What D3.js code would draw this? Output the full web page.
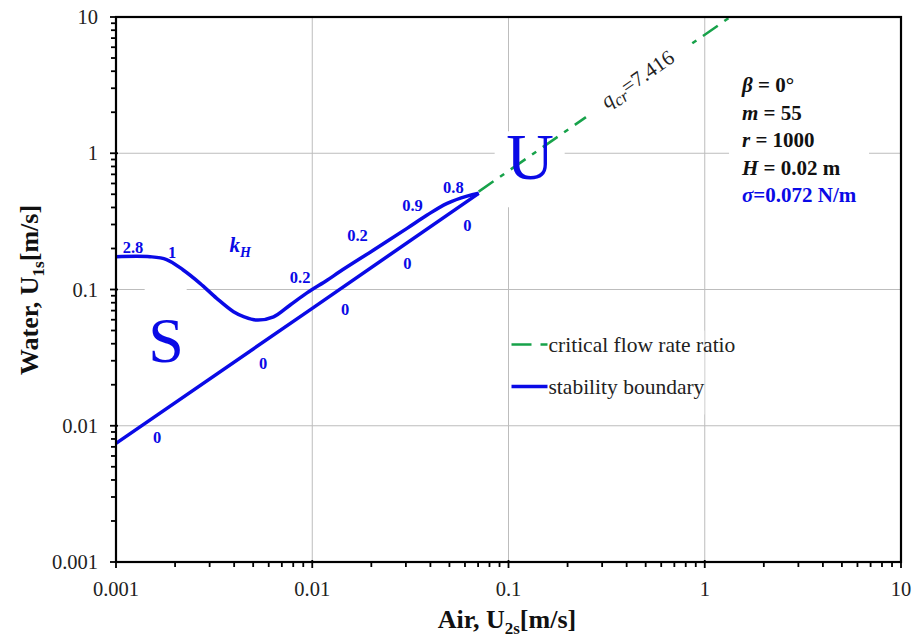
<!DOCTYPE html>
<html>
<head>
<meta charset="utf-8">
<script src="https://cdn.jsdelivr.net/npm/d3@7"></script>
<style>
  body { margin: 0; background: #fff; }
  svg { font-family: "Liberation Serif", "DejaVu Serif", serif; }
  .grid line { stroke: #bdbdbd; stroke-width: 1; }
  .tick-label { font-size: 20.5px; fill: #222; }
  .num { font-size: 16.5px; font-weight: bold; fill: #0a0ae6; }
  .info { font-size: 21px; font-weight: bold; }
</style>
</head>
<body>
<svg width="913" height="637"></svg>
<script>
// stability boundary, upper branch
const upperX = [0.001, 0.00149, 0.00181, 0.0022, 0.00268, 0.00326, 0.00397, 0.0045, 0.00522,
                0.00635, 0.00772, 0.0094, 0.0119, 0.0139, 0.02055, 0.0304, 0.0385, 0.0487, 0.0615, 0.0705];
const upperY = [0.174, 0.174, 0.166, 0.139, 0.111, 0.0861, 0.0687, 0.063, 0.0597,
                0.063, 0.077, 0.0945, 0.117, 0.136, 0.195, 0.281, 0.352, 0.429, 0.485, 0.508];
// stability boundary, lower branch
const lowerX = [0.001, 0.01, 0.0705];
const lowerY = [0.00743, 0.0727, 0.508];
// critical flow rate ratio line q_cr = 7.416
const critX = [0.0705, 1.3484];
const critY = [0.523, 10];

const tickValues = [0.001, 0.01, 0.1, 1, 10];
const tickLabels = ["0.001", "0.01", "0.1", "1", "10"];

// k_H values written along the curve
const kLabels = ["2.8", "1", "0.2", "0.2", "0.9", "0.8", "0", "0", "0", "0", "0"];
const kLabelX = [0.00122, 0.00193, 0.00868, 0.017, 0.0324, 0.0524, 0.0618, 0.0305, 0.0147, 0.00562, 0.00162];
const kLabelY = [0.205, 0.188, 0.1236, 0.251, 0.417, 0.565, 0.297, 0.156, 0.0719, 0.0289, 0.00826];

const legendLabels = ["critical flow rate ratio", "stability boundary"];

const svg = d3.select("svg");
const margin = { top: 17, right: 12, bottom: 75, left: 116 };
const width = 913 - margin.left - margin.right;
const height = 637 - margin.top - margin.bottom;
const blue = "#0a0ae6";
const green = "#17a24a";

const x = d3.scaleLog().domain([0.001, 10]).range([0, width]);
const y = d3.scaleLog().domain([0.001, 10]).range([height, 0]);

const g = svg.append("g").attr("transform", "translate(" + margin.left + "," + margin.top + ")");

// gridlines at the decades
const grid = g.append("g").attr("class", "grid");
grid.selectAll(".gx").data(tickValues.slice(1, -1)).enter().append("line")
  .attr("x1", d => x(d)).attr("x2", d => x(d)).attr("y1", 0).attr("y2", height);
grid.selectAll(".gy").data(tickValues.slice(1, -1)).enter().append("line")
  .attr("y1", d => y(d)).attr("y2", d => y(d)).attr("x1", 0).attr("x2", width);

// white patches behind the annotations (they cut the gridlines)
const patch = (x0, y0, w, h) => g.append("rect").attr("x", x0).attr("y", y0)
  .attr("width", w).attr("height", h).attr("fill", "#fff");
patch(x(0.085) , y(1.45), 70, 76);     // U
patch(x(0.0014), y(0.115), 42, 60);    // S
patch(x(1.33), y(7), 140, 146);        // parameter block
patch(x(0.101), y(0.05), 195, 84);     // legend

// critical line
const line = d3.line().x(d => x(d[0])).y(d => y(d[1]));
g.append("path")
  .datum(critX.map((v, i) => [v, critY[i]]))
  .attr("d", line)
  .attr("fill", "none").attr("stroke", green).attr("stroke-width", 2.5)
  .attr("stroke-dasharray", "18,8,5,8");

// label on the critical line
const p0 = [x(critX[0]), y(critY[0])], p1 = [x(critX[1]), y(critY[1])];
const ang = Math.atan2(p1[1] - p0[1], p1[0] - p0[0]) * 180 / Math.PI;
const lx = x(0.46), ly = y(0.46 * 7.416);
const ql = g.append("g").attr("transform", "translate(" + lx + "," + ly + ") rotate(" + ang + ")");
ql.append("rect").attr("x", -64).attr("y", -14).attr("width", 128).attr("height", 28).attr("fill", "#fff");
const qt = ql.append("text").attr("text-anchor", "middle").attr("y", 5)
  .style("font-size", "21px").attr("fill", "#222");
qt.append("tspan").style("font-style", "italic").text("q");
qt.append("tspan").style("font-style", "italic").style("font-size", "17px").attr("dy", 5).text("cr");
qt.append("tspan").attr("dy", -5).text("=7.416");

// stability boundary
const smooth = d3.line().x(d => x(d[0])).y(d => y(d[1])).curve(d3.curveCatmullRom.alpha(0.5));
g.append("path")
  .datum(upperX.map((v, i) => [v, upperY[i]]))
  .attr("d", smooth)
  .attr("fill", "none").attr("stroke", blue).attr("stroke-width", 3.5).attr("stroke-linejoin", "round");
g.append("path")
  .datum(lowerX.map((v, i) => [v, lowerY[i]]))
  .attr("d", line)
  .attr("fill", "none").attr("stroke", blue).attr("stroke-width", 3.5).attr("stroke-linejoin", "round");

// k_H values
g.selectAll(".num").data(kLabels).enter().append("text")
  .attr("class", "num")
  .attr("x", (d, i) => x(kLabelX[i]))
  .attr("y", (d, i) => y(kLabelY[i]))
  .attr("text-anchor", "middle").attr("dy", "0.35em")
  .text(d => d);

const kh = g.append("text").attr("x", x(0.00429)).attr("y", y(0.212)).attr("dy", "0.35em")
  .attr("text-anchor", "middle").attr("fill", blue)
  .style("font-weight", "bold").style("font-style", "italic").style("font-size", "21px");
kh.append("tspan").text("k");
kh.append("tspan").attr("dy", 5).style("font-size", "14px").text("H");

// region letters
g.append("text").attr("x", x(0.0018)).attr("y", y(0.0426)).attr("dy", "0.35em")
  .attr("text-anchor", "middle").attr("fill", blue).style("font-size", "64px").text("S");
g.append("text").attr("x", x(0.129)).attr("y", y(0.96)).attr("dy", "0.35em")
  .attr("text-anchor", "middle").attr("fill", blue).style("font-size", "66px").text("U");

// parameter block
const info = g.append("g").attr("transform", "translate(" + (x(1.36) + 11) + ",0)");
const rows = [
  [["β", true], [" = 0°", false]],
  [["m", true], [" = 55", false]],
  [["r", true], [" = 1000", false]],
  [["H", true], [" = 0.02 m", false]],
  [["σ", true], ["=0.072 N/m", false]]
];
rows.forEach((r, i) => {
  const t = info.append("text").attr("class", "info").attr("y", 75 + i * 27.5)
    .style("fill", i === 4 ? blue : "#111");
  r.forEach(p => t.append("tspan").style("font-style", p[1] ? "italic" : "normal").text(p[0]));
});

// legend
const leg = g.append("g").attr("transform", "translate(" + (x(0.1) + 3) + "," + (y(0.05) + 14) + ")");
legendLabels.forEach((lab, i) => {
  const row = leg.append("g").attr("transform", "translate(0," + (i * 42) + ")");
  row.append("line").attr("x1", 0).attr("x2", 36).attr("y1", 0).attr("y2", 0)
    .attr("stroke", i === 0 ? green : blue).attr("stroke-width", i === 0 ? 2.5 : 3.5)
    .attr("stroke-dasharray", i === 0 ? "20,9,7" : null);
  row.append("text").attr("x", 37).attr("dy", "0.35em").style("font-size", "21.5px")
    .attr("fill", "#222").text(lab);
});

// frame
g.append("rect").attr("width", width).attr("height", height)
  .attr("fill", "none").attr("stroke", "#000").attr("stroke-width", 2.2);

// ticks, all pointing outward
const minor = [];
tickValues.slice(0, -1).forEach(d => { for (let k = 2; k <= 9; k++) minor.push(d * k); });
g.selectAll(".mx").data(minor).enter().append("line")
  .attr("x1", d => x(d)).attr("x2", d => x(d)).attr("y1", height).attr("y2", height + 5)
  .attr("stroke", "#000").attr("stroke-width", 1.8);
g.selectAll(".my").data(minor).enter().append("line")
  .attr("y1", d => y(d)).attr("y2", d => y(d)).attr("x1", -5).attr("x2", 0)
  .attr("stroke", "#000").attr("stroke-width", 1.8);
g.selectAll(".Mx").data(tickValues).enter().append("line")
  .attr("x1", d => x(d)).attr("x2", d => x(d)).attr("y1", height - 2).attr("y2", height + 6)
  .attr("stroke", "#000").attr("stroke-width", 1.8);
g.selectAll(".My").data(tickValues).enter().append("line")
  .attr("y1", d => y(d)).attr("y2", d => y(d)).attr("x1", -6).attr("x2", 2)
  .attr("stroke", "#000").attr("stroke-width", 1.8);

// tick labels
g.selectAll(".xl").data(tickValues).enter().append("text")
  .attr("class", "tick-label").attr("x", d => x(d)).attr("y", height + 34)
  .attr("text-anchor", "middle").text((d, i) => tickLabels[i]);
g.selectAll(".yl").data(tickValues).enter().append("text")
  .attr("class", "tick-label").attr("x", -18).attr("y", d => y(d)).attr("dy", "0.35em")
  .attr("text-anchor", "end").text((d, i) => tickLabels[i]);

// axis titles
const xt = svg.append("text").attr("x", 507).attr("y", 628).attr("text-anchor", "middle")
  .style("font-size", "26px").style("font-weight", "bold").attr("fill", "#111");
xt.append("tspan").text("Air, U");
xt.append("tspan").attr("dy", 6).style("font-size", "17px").text("2s");
xt.append("tspan").attr("dy", -6).text("[m/s]");

const yt = svg.append("text").attr("transform", "translate(38,290) rotate(-90)").attr("text-anchor", "middle")
  .style("font-size", "26px").style("font-weight", "bold").attr("fill", "#111");
yt.append("tspan").text("Water, U");
yt.append("tspan").attr("dy", 6).style("font-size", "17px").text("1s");
yt.append("tspan").attr("dy", -6).text("[m/s]");
</script>
</body>
</html>
